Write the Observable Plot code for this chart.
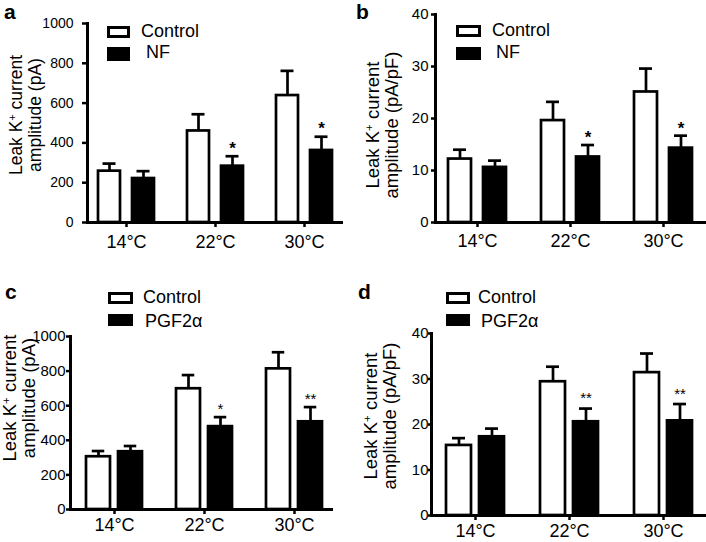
<!DOCTYPE html>
<html><head><meta charset="utf-8">
<script src="https://cdn.jsdelivr.net/npm/d3@7"></script>
<script src="https://cdn.jsdelivr.net/npm/@observablehq/plot@0.6"></script>
<style>
body{margin:0;background:#fff;font-family:"Liberation Sans",Arial,Helvetica,sans-serif;color:#000;}
#fig{position:relative;width:706px;height:542px;overflow:hidden;background:#fff;}
.plab{position:absolute;font-weight:bold;font-size:21px;line-height:normal;}
.ytitle{position:absolute;white-space:nowrap;text-align:center;transform:translate(-50%,-50%) rotate(-90deg);}
.ytitle .sp{font-size:0.62em;vertical-align:0.55em;line-height:0;}
.sw{position:absolute;box-sizing:border-box;border:3px solid #000;background:#fff;}
.sw.fill{background:#000;}
.lt{position:absolute;font-size:18px;line-height:18px;white-space:nowrap;transform:translateY(-50%);}
svg{position:absolute;}
</style></head>
<body><div id="fig"></div>
<script>
// ---------- data ----------
const temps = ["14°C", "22°C", "30°C"];
const ticksAmp = [0, 200, 400, 600, 800, 1000];
const ticksDens = [0, 10, 20, 30, 40];

// panel a: amplitude (pA), Control vs NF
const ctrlA = [258, 460, 638];
const ctrlAErr = [296, 544, 762];
const nfA = [221, 283, 362];
const nfAErr = [258, 333, 431];
const starsA = ["", "*", "*"];

// panel b: density (pA/pF), Control vs NF
const ctrlB = [12.2, 19.6, 25.1];
const ctrlBErr = [14.0, 23.2, 29.6];
const nfB = [10.6, 12.6, 14.3];
const nfBErr = [11.9, 14.9, 16.7];
const starsB = ["", "*", "*"];

// panel c: amplitude (pA), Control vs PGF2α
const ctrlC = [305, 698, 813];
const ctrlCErr = [338, 777, 909];
const pgfC = [334, 479, 507];
const pgfCErr = [367, 534, 592];
const starsC = ["", "*", "**"];

// panel d: density (pA/pF), Control vs PGF2α
const ctrlD = [15.4, 29.4, 31.4];
const ctrlDErr = [17.0, 32.7, 35.6];
const pgfD = [17.3, 20.6, 20.8];
const pgfDErr = [19.1, 23.5, 24.5];
const starsD = ["", "**", "**"];

const legendNF = ["Control", "NF"];
const legendPGF = ["Control", "PGF2α"];
const titleLine1 = "Leak K|+| current";
const titleAmp = "amplitude (pA)";
const titleDens = "amplitude (pA/pF)";

// ---------- layout ----------
const panels = [
  {id: "a", left: 0, top: 0, ml: 87, mr: 10, mt: 23, mb: 49, pi: 0.374, po: 0.117, align: 0.48, bw: 56, bar: 22, cap: 13,
   y: [0, 1000], ticks: ticksAmp, ytSize: 5, ytPad: 9, ytFont: 14, xtPad: 8,
   ctrl: ctrlA, ctrlErr: ctrlAErr, trt: nfA, trtErr: nfAErr, stars: starsA, starSize: 17, starWeight: "bold", starDy: -8,
   legend: legendNF, lg: {bx: 107, bw: 23, b1: [26, 12], b2: [47, 14], t1: [141, 31], t2: [146, 52]},
   title: [titleLine1, titleAmp], tcx: 26, tcy: 115, tfs: 17.5,
   lab: [4, 0]},
  {id: "b", left: 353, top: 0, ml: 82, mr: 0, mt: 14, mb: 49, pi: 0.371, po: 0.131, align: 0.5, bw: 59, bar: 24, cap: 14,
   y: [0, 40], ticks: ticksDens, ytSize: 4, ytPad: 3, ytFont: 15, xtPad: 7,
   ctrl: ctrlB, ctrlErr: ctrlBErr, trt: nfB, trtErr: nfBErr, stars: starsB, starSize: 17, starWeight: "bold", starDy: -7,
   legend: legendNF, lg: {bx: 456, bw: 25, b1: [25, 12], b2: [47, 13], t1: [492, 30], t2: [496, 52]},
   title: [titleLine1, titleDens], tcx: 382, tcy: 125, tfs: 18.5,
   lab: [356, 0]},
  {id: "c", left: 0, top: 271, ml: 70, mr: 20, mt: 65, mb: 33, pi: 0.376, po: 0.141, align: 0.606, bw: 56.5, bar: 24.5, cap: 13,
   y: [0, 1000], ticks: ticksAmp, ytSize: 4, ytPad: 1, ytFont: 15, xtPad: 4,
   ctrl: ctrlC, ctrlErr: ctrlCErr, trt: pgfC, trtErr: pgfCErr, stars: starsC, starSize: 15, starWeight: "normal", starDy: -8,
   legend: legendPGF, lg: {bx: 108, bw: 25, b1: [292, 12], b2: [314, 12], t1: [143, 297], t2: [145, 321]},
   title: [titleLine1, titleAmp], tcx: 19, tcy: 398, tfs: 18.5,
   lab: [5, 280]},
  {id: "d", left: 353, top: 271, ml: 78, mr: 0, mt: 62, mb: 27, pi: 0.385, po: 0.151, align: 0.526, bw: 58, bar: 25, cap: 13,
   y: [0, 40], ticks: ticksDens, ytSize: 3, ytPad: 0, ytFont: 15, xtPad: 4,
   ctrl: ctrlD, ctrlErr: ctrlDErr, trt: pgfD, trtErr: pgfDErr, stars: starsD, starSize: 15, starWeight: "normal", starDy: -10,
   legend: legendPGF, lg: {bx: 446, bw: 24, b1: [292, 12], b2: [314, 12], t1: [478, 297], t2: [481, 321]},
   title: [titleLine1, titleDens], tcx: 380, tcy: 416, tfs: 18.5,
   lab: [358, 280]}
];

const fig = document.getElementById("fig");
const FONT = '"Liberation Sans", Arial, Helvetica, sans-serif';

function el(tag, cls, css, html) {
  const e = document.createElement(tag);
  if (cls) e.className = cls;
  Object.assign(e.style, css || {});
  if (html != null) e.innerHTML = html;
  fig.appendChild(e);
  return e;
}

for (const p of panels) {
  const rows = temps.map((t, i) => ({
    temp: t, ctrl: p.ctrl[i], ctrlErr: p.ctrlErr[i], trt: p.trt[i], trtErr: p.trtErr[i], star: p.stars[i]
  }));
  const sw = 2.7;
  const off = (p.bw - p.bar) / 2;
  const capIn = p.bar / 2 - p.cap / 2;
  const capOut = p.bw - p.bar / 2 - p.cap / 2;
  const svg = Plot.plot({
    width: 353, height: 271,
    marginLeft: p.ml, marginRight: p.mr, marginTop: p.mt, marginBottom: p.mb,
    style: {fontFamily: FONT, color: "#000", background: "transparent", overflow: "visible"},
    x: {domain: temps, paddingInner: p.pi, paddingOuter: p.po, align: p.align},
    y: {domain: p.y},
    marks: [
      Plot.barY(rows, {x: "temp", y: "ctrl", fill: "white", stroke: "black", strokeWidth: sw, insetRight: p.bw - p.bar}),
      Plot.barY(rows, {x: "temp", y: "trt", fill: "black", stroke: "black", strokeWidth: sw, insetLeft: p.bw - p.bar}),
      Plot.ruleX(rows, {x: "temp", y1: "ctrl", y2: "ctrlErr", dx: -off, stroke: "black", strokeWidth: sw}),
      Plot.ruleX(rows, {x: "temp", y1: "trt", y2: "trtErr", dx: off, stroke: "black", strokeWidth: sw}),
      Plot.tickY(rows, {x: "temp", y: "ctrlErr", stroke: "black", strokeWidth: sw, insetLeft: capIn, insetRight: capOut}),
      Plot.tickY(rows, {x: "temp", y: "trtErr", stroke: "black", strokeWidth: sw, insetLeft: capOut, insetRight: capIn}),
      Plot.text(rows, {x: "temp", y: "trtErr", text: "star", dx: off, dy: p.starDy, fontSize: p.starSize, fontWeight: p.starWeight, fill: "black"}),
      Plot.ruleY([0], {stroke: "black", strokeWidth: 3}),
      Plot.frame({anchor: "left", stroke: "black", strokeWidth: 3}),
      Plot.axisY({ticks: p.ticks, tickFormat: (d) => String(d), tickSize: p.ytSize, tickPadding: p.ytPad, fontSize: p.ytFont, strokeWidth: 2.5, label: null}),
      Plot.axisX({tickSize: 5, tickPadding: p.xtPad, fontSize: 18, strokeWidth: 2.5, label: null})
    ]
  });
  svg.style.left = p.left + "px";
  svg.style.top = p.top + "px";
  fig.appendChild(svg);

  // legend
  const g = p.lg;
  el("div", "sw", {left: g.bx + "px", top: g.b1[0] + "px", width: g.bw + "px", height: g.b1[1] + "px"});
  el("div", "sw fill", {left: g.bx + "px", top: g.b2[0] + "px", width: g.bw + "px", height: g.b2[1] + "px"});
  el("div", "lt", {left: g.t1[0] + "px", top: g.t1[1] + "px"}, p.legend[0]);
  el("div", "lt", {left: g.t2[0] + "px", top: g.t2[1] + "px"}, p.legend[1]);

  // y title
  const l1 = p.title[0].split("|");
  el("div", "ytitle", {left: p.tcx + "px", top: p.tcy + "px", fontSize: p.tfs + "px", lineHeight: "19px"},
     l1[0] + '<span class="sp">' + l1[1] + '</span>' + l1[2] + "<br>" + p.title[1]);

  // panel label
  el("div", "plab", {left: p.lab[0] + "px", top: p.lab[1] + "px"}, p.id);
}
</script>
</body></html>
